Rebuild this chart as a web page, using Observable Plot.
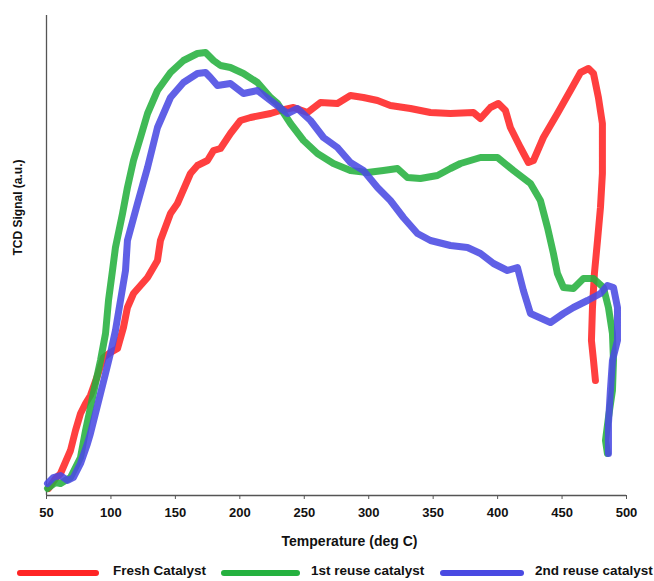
<!DOCTYPE html>
<html>
<head>
<meta charset="utf-8">
<script src="https://cdn.jsdelivr.net/npm/d3@7"></script>
<script src="https://cdn.jsdelivr.net/npm/@observablehq/plot@0.6"></script>
<style>
  html, body { margin: 0; padding: 0; background: #fff; }
  #wrap { position: relative; width: 654px; height: 581px; font-family: "Liberation Sans", Arial, sans-serif; }
  #legend { position: absolute; left: 0; top: 563px; width: 654px; height: 18px; font-weight: bold; font-size: 13.5px; color: #111; }
  .sw { position: absolute; top: 7px; height: 6px; border-radius: 3px; }
  .lt { position: absolute; top: 0px; white-space: nowrap; }
</style>
</head>
<body>
<div id="wrap">
  <div id="chart"></div>
  <div id="legend"></div>
</div>
<script>
// Series names and colours
const seriesNames = ["Fresh Catalyst", "1st reuse catalyst", "2nd reuse catalyst"];
const seriesColors = ["#ff2424", "#25b13f", "#4a4ae2"];

// x tick labels
const xTicks = [50, 100, 150, 200, 250, 300, 350, 400, 450, 500];

// Fresh catalyst: temperature (deg C) and TCD signal (a.u.)
const freshT = [51.6, 57.0, 60.9, 68.6, 72.5, 76.4, 80.3, 84.1, 89.6, 94.2, 99.6, 105.1, 109.7, 112.8, 117.5, 128.4, 136.1, 138.4, 146.2, 151.6, 161.7, 167.1, 174.9, 179.6, 185.0, 192.7, 200.5, 208.3, 223.8, 231.5, 241.6, 252.5, 262.6, 275.7, 285.8, 295.9, 306.8, 316.8, 332.4, 347.9, 363.4, 381.2, 386.7, 394.4, 400.6, 406.1, 409.9, 417.7, 423.9, 427.8, 435.5, 446.4, 456.5, 464.3, 470.5, 474.4, 478.2, 481.3, 481.3, 479.8, 477.5, 475.1, 473.6, 472.8, 474.4, 475.9];
const freshS = [2, 12, 17, 40, 60, 77, 87, 95, 115, 133, 138, 142, 163, 183, 197, 213, 230, 250, 277, 287, 317, 325, 330, 340, 342, 357, 370, 373, 377, 380, 383, 378, 388, 387, 395, 393, 390, 385, 382, 378, 377, 378, 372, 383, 387, 380, 363, 343, 328, 330, 353, 377, 400, 418, 422, 417, 393, 367, 317, 283, 250, 217, 183, 150, 130, 110];

// 1st reuse catalyst
const reuse1T = [50.8, 57.0, 60.9, 68.6, 76.4, 80.3, 84.1, 88.0, 91.9, 95.8, 98.1, 101.2, 103.5, 109.0, 112.8, 117.5, 122.9, 128.4, 136.1, 146.2, 156.3, 167.1, 173.4, 179.6, 185.0, 192.7, 202.8, 213.7, 223.8, 229.2, 239.3, 249.4, 260.2, 272.6, 285.8, 299.0, 311.4, 322.3, 330.0, 340.1, 353.3, 363.4, 371.2, 386.7, 399.9, 412.3, 425.5, 433.2, 438.7, 443.3, 446.4, 451.1, 458.8, 466.6, 474.4, 482.1, 486.0, 489.1, 489.9, 489.1, 486.0, 483.7, 485.2];
const reuse1S = [2, 8, 7, 13, 33, 60, 83, 107, 130, 157, 190, 220, 243, 277, 303, 330, 353, 377, 400, 418, 430, 437, 438, 430, 425, 423, 417, 408, 393, 387, 367, 350, 337, 327, 320, 318, 320, 322, 313, 312, 315, 322, 327, 333, 333, 320, 307, 290, 263, 237, 217, 203, 202, 212, 212, 203, 183, 157, 130, 100, 73, 50, 37];

// 2nd reuse catalyst
const reuse2T = [50.8, 55.4, 60.9, 66.3, 70.9, 76.4, 81.8, 84.1, 88.0, 91.9, 95.8, 99.6, 103.5, 107.4, 111.3, 112.8, 120.6, 128.4, 136.1, 146.2, 156.3, 167.1, 173.4, 177.2, 182.6, 192.7, 202.8, 213.7, 223.8, 237.0, 244.7, 254.8, 264.9, 275.7, 285.8, 295.9, 306.8, 316.8, 326.9, 337.8, 347.9, 363.4, 376.6, 386.7, 396.8, 407.6, 415.4, 420.0, 425.5, 441.0, 451.1, 458.8, 469.7, 479.8, 485.2, 489.9, 493.0, 493.0, 489.1, 487.5, 486.0, 486.0];
const reuse2S = [7, 13, 15, 10, 13, 27, 47, 57, 77, 97, 117, 137, 160, 190, 220, 250, 287, 323, 363, 393, 408, 417, 418, 413, 405, 407, 397, 400, 390, 377, 382, 370, 353, 343, 328, 320, 303, 290, 273, 257, 250, 245, 243, 237, 227, 220, 223, 200, 177, 168, 177, 183, 190, 197, 205, 203, 183, 150, 130, 100, 67, 37];

const seriesT = [freshT, reuse1T, reuse2T];
const seriesS = [freshS, reuse1S, reuse2S];

const rows = [];
seriesNames.forEach((name, k) => {
  seriesT[k].forEach((t, i) => rows.push({series: name, order: i, temp: t, signal: seriesS[k][i]}));
});

const font = "Liberation Sans, Arial, sans-serif";
const chart = Plot.plot({
  width: 654,
  height: 560,
  marginLeft: 46,
  marginRight: 28,
  marginTop: 15,
  marginBottom: 65,
  style: {fontFamily: font, background: "#fff", overflow: "visible"},
  x: {domain: [50, 500], axis: null},
  y: {domain: [-5, 475], axis: null},
  color: {domain: seriesNames, range: seriesColors},
  marks: [
    Plot.axisX({ticks: xTicks, tickSize: 4, tickPadding: 8, fontSize: 13, fontWeight: "bold", stroke: "#555", color: "#111", label: null, tickFormat: d => String(d)}),
    Plot.ruleY([-5], {x1: 50, x2: 500, stroke: "#555", strokeWidth: 1.3}),
    Plot.ruleX([50], {y1: -5, y2: 475, stroke: "#555", strokeWidth: 1.3}),
    Plot.line(rows, {x: "temp", y: "signal", z: "series", stroke: "series", strokeWidth: 7, strokeOpacity: 0.88, strokeLinejoin: "round", strokeLinecap: "round", curve: "linear"}),
    Plot.text(["Temperature (deg C)"], {frameAnchor: "bottom", dx: 13, dy: 50, fontSize: 14, fontWeight: "bold", fill: "#111"}),
    Plot.text(["TCD Signal (a.u.)"], {frameAnchor: "left", dx: -28, rotate: -90, fontSize: 12, fontWeight: "bold", fill: "#111"})
  ]
});
document.getElementById("chart").appendChild(chart);

// legend
const legendLayout = [
  {sw: [17, 82], tx: 113},
  {sw: [221, 79], tx: 311},
  {sw: [440, 84], tx: 535}
];
const legend = document.getElementById("legend");
seriesNames.forEach((name, k) => {
  const s = document.createElement("div");
  s.className = "sw";
  s.style.left = legendLayout[k].sw[0] + "px";
  s.style.width = legendLayout[k].sw[1] + "px";
  s.style.background = seriesColors[k];
  legend.appendChild(s);
  const t = document.createElement("div");
  t.className = "lt";
  t.style.left = legendLayout[k].tx + "px";
  t.textContent = name;
  legend.appendChild(t);
});
</script>
</body>
</html>
